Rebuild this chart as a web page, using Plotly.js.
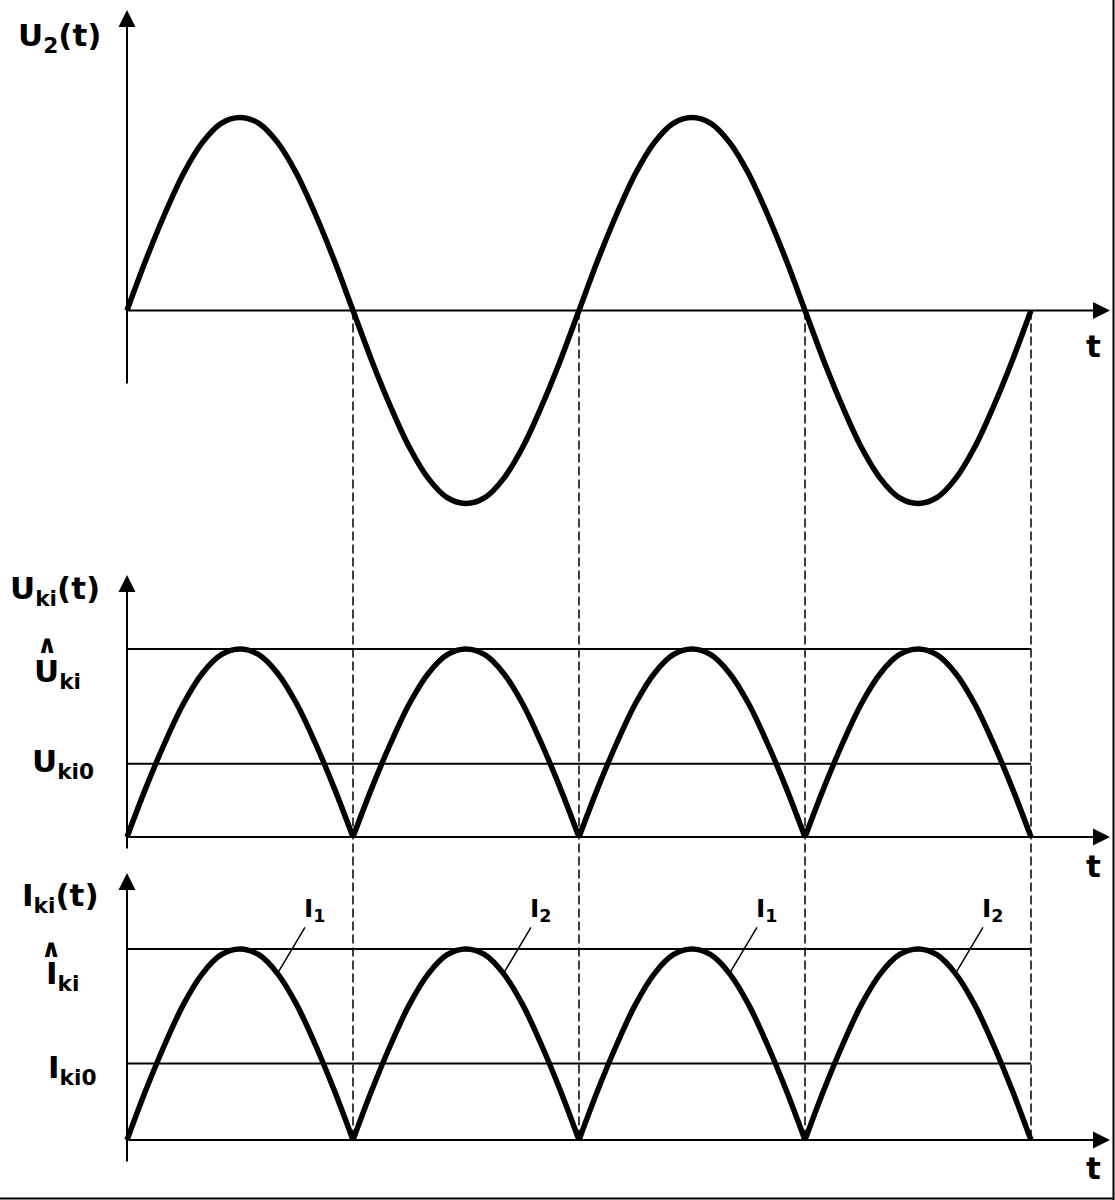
<!DOCTYPE html>
<html>
<head>
<meta charset="utf-8">
<title>U2(t), Uki(t), Iki(t)</title>
<script src="https://cdn.plot.ly/plotly-3.0.1.min.js"></script>
<style>
    html, body { margin: 0; padding: 0; background: #ffffff; }
    #grafico { width: 1115px; height: 1200px; }
</style>
</head>
<body>
<div id="grafico"></div>
<script>
// ============================================
// DATOS
// ============================================
// fase dentro de un semiperiodo (0..1) y valor relativo de la onda
const halfPhase = [0, 0.083, 0.167, 0.25, 0.333, 0.417, 0.5, 0.583, 0.667, 0.75, 0.833, 0.917, 1];
const halfWave  = [0, 0.26, 0.50, 0.71, 0.87, 0.97, 1.00, 0.97, 0.87, 0.71, 0.50, 0.26, 0];

// polaridad de cada semiperiodo de U2(t)
const u2Polarity = [1, -1, 1, -1];

// niveles horizontales, relativos al pico
const uLevels = [1.00, 0.39];   // Û_ki, U_ki0
const iLevels = [1.00, 0.40];   // Î_ki, I_ki0

// nombre de cada semionda de corriente
const currentNames = ['I<sub>1</sub>', 'I<sub>2</sub>', 'I<sub>1</sub>', 'I<sub>2</sub>'];

// ============================================
// GEOMETRIA (px del dibujo)
// ============================================
const W = 1115, H = 1200;
const X0 = 127, HALF = 226;        // origen t=0 y ancho de un semiperiodo
const T_END = (1110 - X0) / HALF;  // punta de la flecha t

const panels = [
    { top: 5,   bottom: 515,  zero: 310.5, amp: 193, axTop: 10,  axBottom: 385 },
    { top: 565, bottom: 860,  zero: 837,   amp: 188, axTop: 575, axBottom: 850 },
    { top: 865, bottom: 1170, zero: 1140,  amp: 191, axTop: 873, axBottom: 1163 }
];

const FONT = { family: 'DejaVu Sans, Verdana, sans-serif', color: '#000000', weight: 'bold' };

function val(p, py) { return (p.zero - py) / p.amp; }
function paperY(p, v) { return 1 - (p.zero - v * p.amp) / H; }

// ============================================
// TRAZAS
// ============================================
const u2 = { x: [], y: [] };
const rect = { x: [], y: [] };
u2Polarity.forEach((sign, k) => {
    halfPhase.forEach((ph, i) => {
        if (k > 0 && i === 0) return;
        u2.x.push(k + ph);
        u2.y.push(sign * halfWave[i]);
    });
    halfPhase.forEach((ph, i) => {
        rect.x.push(k + ph);
        rect.y.push(halfWave[i]);
    });
    rect.x.push(null);
    rect.y.push(null);
});

const curveLine = { color: '#000000', width: 5.5, shape: 'spline', smoothing: 1 };
const thinLine = { color: '#000000', width: 2 };

const traces = [
    { x: u2.x, y: u2.y, yaxis: 'y', mode: 'lines', line: curveLine },
    { x: rect.x, y: rect.y, yaxis: 'y2', mode: 'lines', line: curveLine, connectgaps: false },
    { x: rect.x, y: rect.y, yaxis: 'y3', mode: 'lines', line: curveLine, connectgaps: false }
];
uLevels.forEach(lv => traces.push({ x: [0, 4], y: [lv, lv], yaxis: 'y2', mode: 'lines', line: thinLine }));
iLevels.forEach(lv => traces.push({ x: [0, 4], y: [lv, lv], yaxis: 'y3', mode: 'lines', line: thinLine }));

// ============================================
// EJES (flechas) Y TEXTOS
// ============================================
const annotations = [];
const yrefs = ['y', 'y2', 'y3'];
panels.forEach((p, i) => {
    const arrow = {
        xref: 'x', yref: yrefs[i], axref: 'x', ayref: yrefs[i],
        text: '', showarrow: true, arrowhead: 2, arrowsize: 1.7, arrowwidth: 2, arrowcolor: '#000000'
    };
    annotations.push({ ...arrow, x: 0, y: val(p, p.axTop), ax: 0, ay: val(p, p.axBottom) });
    annotations.push({ ...arrow, x: T_END, y: 0, ax: 0, ay: 0 });
});

function label(text, px, py, size) {
    return {
        text: text, x: px / W, y: 1 - py / H, xref: 'paper', yref: 'paper',
        xanchor: 'center', yanchor: 'middle', showarrow: false,
        font: { ...FONT, size: size || 31 }
    };
}

annotations.push(
    label('U<sub>2</sub>(t)', 59, 37),
    label('t', 1093, 346),
    label('U<sub>ki</sub>(t)', 55, 591),
    label('∧', 47, 644, 25),
    label('U<sub>ki</sub>', 57, 673),
    label('U<sub>ki0</sub>', 63, 763),
    label('t', 1093, 866),
    label('I<sub>ki</sub>(t)', 60, 897),
    label('∧', 51, 948, 25),
    label('I<sub>ki</sub>', 62, 975),
    label('I<sub>ki0</sub>', 72, 1069),
    label('t', 1093, 1168)
);

currentNames.forEach((name, k) => {
    annotations.push({
        text: name, x: k + 0.67, y: 0.88, xref: 'x', yref: 'y3',
        ax: 37, ay: -62, showarrow: true, arrowhead: 0, arrowwidth: 1.5, arrowcolor: '#000000',
        font: { ...FONT, size: 25 }
    });
});

// lineas discontinuas entre los ceros de U2 y la base de Iki
const shapes = [1, 2, 3, 4].map(k => ({
    type: 'line', xref: 'x', yref: 'paper', layer: 'below',
    x0: k, x1: k, y0: paperY(panels[0], 0), y1: paperY(panels[2], 0),
    line: { color: '#000000', width: 1.5, dash: '9px,4px' }
}));
// marco derecho e inferior
shapes.push(
    { type: 'line', xref: 'paper', yref: 'paper', x0: 1113.5 / W, x1: 1113.5 / W, y0: 0, y1: 1,
      line: { color: '#000000', width: 2 } },
    { type: 'line', xref: 'paper', yref: 'paper', x0: 0, x1: 1113.5 / W, y0: 1 - 1198.5 / H, y1: 1 - 1198.5 / H,
      line: { color: '#000000', width: 2 } }
);

const hidden = { visible: false, fixedrange: true, showgrid: false, zeroline: false };
const layout = {
    width: W, height: H,
    margin: { l: 0, r: 0, t: 0, b: 0 },
    paper_bgcolor: '#ffffff', plot_bgcolor: 'rgba(0,0,0,0)',
    showlegend: false,
    xaxis: { ...hidden, domain: [0, 1], range: [-X0 / HALF, (W - X0) / HALF] },
    annotations: annotations,
    shapes: shapes
};
panels.forEach((p, i) => {
    layout[i === 0 ? 'yaxis' : 'yaxis' + (i + 1)] = {
        ...hidden, anchor: 'x',
        domain: [1 - p.bottom / H, 1 - p.top / H],
        range: [val(p, p.bottom), val(p, p.top)]
    };
});

Plotly.newPlot('grafico', traces, layout, { displayModeBar: false, staticPlot: true });
</script>
</body>
</html>
